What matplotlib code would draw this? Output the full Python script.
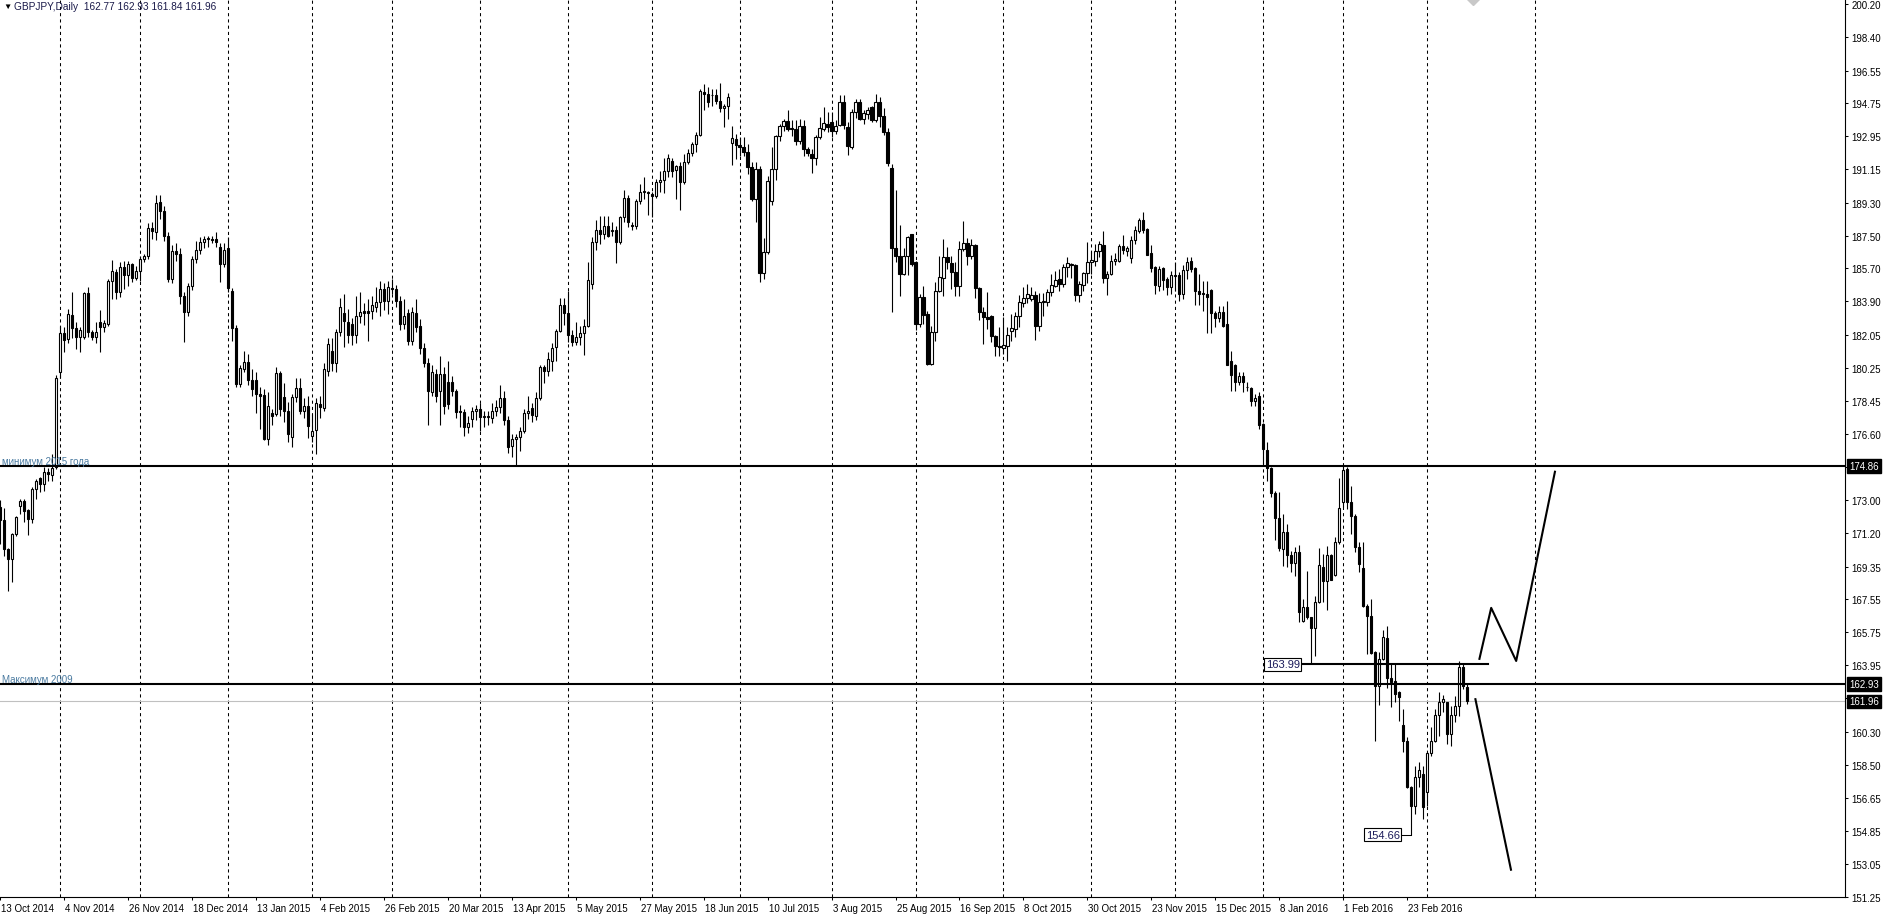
import numpy as np
import matplotlib
matplotlib.use('agg')
import matplotlib.pyplot as plt
import matplotlib.transforms as mtransforms

plt.rcParams['font.family'] = ['Liberation Sans', 'DejaVu Sans']

# GBPJPY daily bars, 13 Oct 2014 .. mid Mar 2016
bar_open = [
    172.60, 171.93, 170.32, 169.77, 171.14, 172.70, 172.97, 172.48, 171.97, 173.61,
    174.20, 173.88, 174.56, 174.38, 174.80, 180.00, 182.16, 181.83, 183.15, 182.42,
    181.93, 181.93, 184.36, 182.24, 181.93, 182.75, 182.48, 182.66, 185.03, 185.49,
    184.43, 185.78, 185.34, 185.93, 185.20, 185.56, 186.22, 186.40, 187.92, 187.72,
    189.33, 188.87, 187.50, 185.12, 186.68, 186.50, 184.21, 183.33, 184.76, 186.22,
    186.73, 187.17, 187.30, 187.30, 187.32, 186.86, 185.95, 186.82, 184.47, 182.46,
    179.37, 180.20, 180.56, 179.60, 179.60, 178.82, 178.76, 176.35, 177.76, 177.72,
    179.97, 178.64, 177.87, 176.45, 178.64, 179.13, 177.90, 178.18, 176.53, 176.85,
    178.29, 178.05, 180.10, 181.20, 180.50, 182.20, 183.24, 182.75, 182.66, 182.05,
    183.11, 183.35, 183.39, 183.39, 183.57, 183.85, 184.58, 183.94, 184.65, 184.58,
    183.94, 182.66, 183.26, 181.74, 183.26, 182.57, 181.32, 180.50, 178.91, 179.92,
    179.00, 179.90, 179.50, 179.46, 179.00, 177.90, 177.85, 176.99, 177.45, 177.90,
    178.00, 177.55, 177.60, 177.50, 177.90, 178.10, 178.60, 177.40, 175.95, 176.35,
    176.48, 176.80, 177.75, 178.03, 177.60, 178.60, 180.30, 180.06, 180.65, 181.38,
    182.29, 183.70, 183.27, 182.05, 181.65, 181.93, 182.16, 182.53, 184.85, 187.14,
    187.83, 187.60, 188.01, 187.75, 187.78, 187.17, 188.51, 189.55, 188.10, 188.05,
    189.37, 189.88, 189.90, 189.80, 189.66, 190.43, 190.57, 191.05, 191.58, 191.07,
    191.30, 190.46, 191.52, 192.03, 192.51, 193.02, 195.36, 195.27, 195.20, 195.20,
    194.90, 194.49, 194.63, 192.58, 192.80, 192.44, 192.35, 192.07, 191.25, 189.51,
    191.16, 185.44, 186.59, 189.40, 191.16, 192.95, 193.53, 193.77, 193.39, 193.35,
    192.71, 193.49, 192.25, 191.98, 191.74, 192.90, 193.32, 193.60, 193.72, 193.26,
    193.57, 194.81, 193.44, 192.35, 194.30, 194.81, 193.90, 194.17, 194.54, 193.81,
    194.81, 194.08, 193.20, 191.19, 186.80, 186.40, 185.39, 186.40, 187.57, 186.03,
    182.65, 184.11, 183.20, 180.46, 182.19, 184.44, 185.16, 186.31, 185.99, 185.48,
    184.75, 186.76, 187.09, 186.36, 186.98, 184.60, 183.33, 183.02, 183.07, 181.97,
    181.45, 181.32, 181.46, 182.29, 182.38, 183.07, 183.80, 184.06, 184.02, 184.24,
    182.56, 183.88, 183.88, 184.39, 184.75, 185.12, 184.85, 185.76, 185.90, 185.89,
    184.24, 184.79, 185.45, 186.04, 186.12, 186.67, 186.98, 185.16, 185.39, 186.12,
    186.12, 186.91, 186.67, 186.25, 187.28, 187.77, 188.35, 187.86, 186.55, 185.76,
    184.75, 185.72, 185.12, 184.66, 185.34, 185.34, 184.30, 185.63, 186.12, 185.72,
    184.48, 184.35, 184.30, 184.53, 183.25, 182.98, 183.33, 182.65, 180.64, 180.40,
    179.49, 179.78, 179.22, 179.16, 178.45, 178.72, 177.18, 175.77, 174.74, 173.39,
    172.00, 170.32, 171.27, 169.99, 169.55, 170.17, 166.39, 167.12, 166.57, 165.97,
    167.40, 169.35, 168.58, 169.99, 168.90, 170.69, 172.88, 174.71, 172.88, 172.15,
    170.41, 169.26, 167.21, 166.63, 164.65, 162.79, 164.29, 165.42, 163.23, 163.10,
    162.46, 160.67, 159.81, 157.25, 156.24, 157.80, 157.98, 157.02, 159.13, 159.81,
    161.24, 161.95, 161.91, 160.17, 161.22, 161.73, 163.83, 162.77,
]
bar_high = [
    173.00, 172.57, 170.40, 171.20, 172.15, 173.06, 173.06, 172.50, 173.70, 174.16,
    174.25, 174.80, 174.74, 175.50, 179.86, 182.56, 182.50, 183.50, 184.40, 182.75,
    182.50, 184.40, 184.70, 182.30, 182.75, 183.40, 182.85, 185.12, 186.15, 185.67,
    186.04, 186.13, 186.13, 186.00, 185.85, 186.40, 186.50, 188.20, 188.23, 189.70,
    189.70, 189.14, 187.70, 187.00, 187.10, 186.80, 184.40, 184.90, 186.40, 187.20,
    187.40, 187.50, 187.50, 187.50, 187.70, 187.10, 187.10, 187.40, 184.60, 182.60,
    180.40, 181.20, 181.00, 180.20, 180.00, 179.20, 179.10, 178.90, 178.00, 180.30,
    180.10, 179.40, 178.40, 178.80, 179.70, 179.70, 178.60, 178.70, 177.70, 178.60,
    178.70, 180.50, 181.90, 181.90, 182.40, 184.10, 184.30, 183.50, 183.00, 184.20,
    184.40, 183.80, 184.00, 184.20, 184.70, 185.00, 184.90, 185.00, 185.10, 184.80,
    184.20, 184.00, 183.50, 183.60, 184.00, 182.90, 181.60, 180.80, 180.40, 180.20,
    180.90, 180.30, 180.60, 179.80, 179.10, 178.20, 178.00, 177.60, 178.10, 178.20,
    178.30, 177.90, 177.90, 178.30, 178.50, 179.30, 179.00, 177.60, 176.60, 176.60,
    177.00, 178.00, 178.70, 178.30, 178.90, 180.40, 180.40, 181.10, 181.60, 182.40,
    184.10, 184.10, 184.45, 182.30, 182.75, 182.57, 182.93, 186.04, 187.40, 188.33,
    188.56, 188.56, 188.60, 188.26, 188.05, 188.60, 190.00, 189.70, 188.23, 189.51,
    190.33, 190.70, 189.95, 189.88, 190.60, 191.06, 191.74, 191.98, 191.74, 191.38,
    191.52, 191.98, 192.25, 192.62, 193.17, 195.54, 195.82, 195.64, 195.54, 195.54,
    195.87, 194.72, 195.30, 193.50, 193.08, 192.90, 192.90, 192.53, 191.52, 191.52,
    191.30, 187.35, 190.79, 192.35, 193.02, 193.63, 193.90, 194.36, 193.81, 193.81,
    193.90, 193.81, 192.35, 192.25, 192.99, 193.99, 194.54, 194.27, 194.30, 193.81,
    195.18, 195.18, 193.72, 194.45, 195.00, 195.00, 194.36, 194.54, 194.63, 195.27,
    195.09, 194.50, 193.40, 191.40, 190.00, 188.08, 186.80, 187.45, 187.60, 186.10,
    184.30, 184.75, 183.38, 182.56, 184.97, 186.40, 187.31, 186.86, 186.40, 186.07,
    187.22, 188.32, 187.35, 187.31, 187.04, 184.66, 183.57, 184.42, 183.14, 182.05,
    182.47, 183.02, 182.47, 183.20, 183.29, 184.24, 184.66, 184.85, 184.66, 184.48,
    184.35, 184.35, 184.57, 185.39, 185.58, 185.67, 185.94, 186.31, 186.00, 185.94,
    185.03, 185.48, 187.13, 186.67, 187.04, 187.22, 187.77, 185.58, 186.43, 186.54,
    187.04, 187.53, 186.91, 187.46, 188.04, 188.45, 188.81, 187.90, 186.98, 185.85,
    185.81, 185.76, 185.21, 185.58, 186.03, 185.48, 185.89, 186.31, 186.31, 185.76,
    185.39, 185.03, 185.03, 184.57, 183.38, 183.66, 183.66, 183.93, 181.19, 180.46,
    180.00, 180.00, 179.49, 179.18, 178.81, 178.90, 177.20, 176.17, 174.80, 173.52,
    173.47, 172.24, 171.69, 170.23, 170.41, 170.54, 167.58, 169.13, 166.60, 167.76,
    170.36, 170.05, 170.47, 170.05, 170.96, 174.20, 174.86, 174.80, 173.79, 172.24,
    170.69, 170.69, 167.30, 167.58, 164.70, 164.65, 165.90, 166.12, 164.01, 164.01,
    162.55, 161.55, 159.99, 157.34, 158.44, 158.66, 158.44, 159.17, 160.54, 161.55,
    162.46, 162.31, 161.95, 161.73, 162.28, 164.20, 164.01, 162.93,
]
bar_low = [
    170.60, 169.96, 168.04, 168.53, 171.05, 172.24, 171.82, 171.10, 171.75, 173.06,
    173.43, 173.52, 174.07, 174.07, 174.70, 179.68, 181.10, 181.60, 181.90, 181.30,
    181.10, 181.85, 181.93, 181.80, 181.60, 181.10, 182.20, 182.57, 184.03, 184.03,
    184.12, 184.58, 184.76, 184.98, 185.04, 185.00, 186.04, 186.22, 187.32, 187.28,
    188.42, 187.20, 184.95, 184.90, 186.10, 183.75, 181.65, 183.10, 184.50, 186.00,
    186.50, 186.80, 186.90, 187.10, 186.90, 184.95, 185.80, 184.40, 181.70, 179.20,
    179.20, 180.00, 179.30, 178.70, 177.80, 176.90, 176.30, 176.00, 177.10, 177.60,
    177.60, 177.30, 176.20, 175.90, 178.40, 177.70, 177.50, 176.40, 176.20, 175.50,
    177.50, 177.90, 179.80, 180.10, 180.00, 182.00, 181.40, 181.60, 181.50, 181.60,
    182.70, 182.60, 181.70, 182.90, 183.30, 183.10, 183.40, 183.20, 184.30, 183.60,
    182.30, 182.40, 181.50, 181.50, 182.20, 181.00, 180.30, 177.10, 178.70, 178.40,
    177.10, 177.70, 178.00, 178.70, 177.50, 177.00, 176.50, 176.70, 177.00, 177.40,
    176.80, 177.00, 177.10, 177.20, 177.60, 177.80, 177.10, 175.60, 175.35, 174.86,
    175.70, 176.70, 177.45, 177.30, 177.40, 178.50, 179.40, 179.80, 180.10, 180.65,
    182.20, 182.60, 181.65, 181.45, 181.50, 181.50, 180.96, 182.48, 184.58, 186.73,
    187.05, 187.32, 187.41, 187.50, 186.00, 187.05, 188.23, 187.96, 187.78, 187.87,
    189.24, 189.50, 188.65, 188.50, 189.55, 189.88, 189.84, 190.70, 190.70, 189.51,
    188.93, 190.33, 191.43, 191.89, 192.07, 192.95, 194.36, 194.54, 194.63, 194.72,
    194.27, 193.44, 193.90, 191.38, 191.71, 191.85, 191.89, 190.85, 189.42, 188.23,
    184.98, 185.13, 186.50, 189.20, 190.52, 192.66, 193.26, 193.26, 192.95, 192.47,
    192.53, 191.89, 191.85, 190.94, 191.38, 192.80, 193.21, 193.17, 192.90, 193.08,
    193.53, 193.35, 191.92, 192.25, 193.94, 193.81, 193.63, 193.90, 193.72, 193.72,
    193.44, 193.00, 191.30, 183.33, 186.07, 184.17, 185.34, 185.34, 185.85, 182.34,
    182.47, 182.65, 180.40, 180.40, 181.74, 184.39, 184.20, 185.67, 184.57, 184.20,
    184.20, 186.67, 185.89, 186.20, 184.10, 182.89, 181.55, 182.38, 181.65, 180.91,
    180.88, 181.00, 180.64, 181.74, 181.92, 182.47, 183.57, 183.80, 183.93, 181.79,
    182.29, 183.11, 183.62, 184.20, 184.66, 184.48, 184.66, 185.21, 185.16, 183.93,
    183.88, 184.48, 184.90, 185.40, 185.85, 186.31, 184.90, 184.24, 185.34, 185.89,
    186.07, 186.49, 186.40, 185.99, 187.04, 187.64, 187.64, 186.44, 185.48, 184.30,
    184.48, 184.53, 184.24, 184.30, 184.48, 183.93, 184.02, 185.12, 185.48, 183.69,
    183.69, 183.38, 182.16, 182.16, 182.47, 182.74, 182.47, 180.40, 178.99, 178.99,
    179.31, 178.94, 178.99, 178.14, 178.17, 176.90, 174.98, 174.07, 173.15, 170.83,
    170.23, 169.41, 169.32, 169.04, 168.86, 166.34, 166.34, 166.48, 163.99, 164.47,
    167.35, 167.40, 166.99, 168.60, 168.85, 170.60, 172.60, 172.51, 171.14, 170.14,
    169.04, 167.15, 164.56, 164.56, 159.81, 161.77, 164.25, 162.68, 161.64, 161.91,
    160.91, 159.17, 157.20, 154.66, 155.79, 157.25, 155.51, 156.24, 158.99, 159.72,
    160.08, 161.40, 159.63, 159.54, 160.82, 161.18, 162.65, 161.84,
]
bar_close = [
    171.93, 170.32, 169.77, 171.14, 172.06, 172.97, 172.42, 171.97, 173.61, 174.07,
    173.88, 174.52, 174.45, 174.74, 179.68, 182.16, 181.80, 183.20, 182.42, 181.93,
    182.30, 184.36, 182.24, 181.93, 182.24, 182.48, 182.71, 185.03, 185.56, 184.43,
    185.78, 185.34, 185.93, 185.20, 185.56, 186.22, 186.40, 187.92, 187.74, 189.29,
    188.87, 187.50, 185.12, 186.68, 186.50, 184.21, 183.33, 184.76, 186.22, 186.73,
    187.17, 187.32, 187.35, 187.28, 187.14, 185.95, 186.73, 184.61, 182.42, 179.37,
    180.23, 180.56, 179.60, 179.10, 178.82, 178.73, 176.35, 178.18, 177.63, 179.97,
    178.00, 177.87, 176.63, 178.64, 179.13, 177.90, 178.18, 177.08, 176.81, 178.33,
    178.09, 180.19, 181.58, 180.52, 182.20, 183.57, 182.84, 182.05, 182.05, 183.11,
    183.33, 183.26, 183.26, 183.67, 183.85, 184.58, 183.94, 184.67, 184.57, 183.94,
    182.66, 183.08, 181.74, 183.30, 182.48, 181.32, 180.50, 179.00, 180.01, 178.73,
    179.92, 178.18, 178.27, 179.00, 177.85, 177.81, 176.99, 177.20, 177.90, 178.00,
    177.54, 177.60, 177.55, 177.90, 178.10, 178.60, 177.40, 175.90, 176.35, 176.48,
    176.80, 177.75, 177.90, 177.66, 178.60, 180.30, 180.06, 180.74, 181.36, 182.29,
    183.70, 183.27, 182.05, 181.65, 181.93, 182.16, 182.53, 185.07, 187.14, 187.83,
    187.56, 188.01, 187.50, 187.80, 187.17, 188.51, 189.55, 188.27, 188.00, 189.37,
    189.88, 189.95, 189.85, 189.66, 190.43, 190.57, 191.05, 191.78, 191.03, 191.30,
    190.46, 191.52, 192.03, 192.51, 193.02, 195.42, 195.25, 194.85, 195.22, 194.90,
    194.50, 194.63, 195.09, 192.84, 192.44, 192.35, 192.07, 191.25, 189.51, 191.16,
    185.44, 186.59, 190.48, 191.16, 192.95, 193.53, 193.77, 193.35, 193.32, 192.66,
    193.49, 192.25, 192.03, 191.74, 192.90, 193.39, 193.66, 193.46, 193.26, 193.53,
    194.81, 193.57, 192.40, 194.27, 194.81, 193.90, 194.23, 194.36, 193.81, 194.81,
    194.08, 193.20, 191.48, 186.80, 186.40, 185.39, 186.40, 187.40, 185.94, 182.65,
    184.11, 183.16, 180.46, 182.19, 184.44, 185.21, 186.31, 186.03, 185.48, 184.75,
    186.76, 187.09, 186.36, 186.98, 184.60, 183.33, 183.02, 182.93, 181.97, 181.43,
    181.37, 181.50, 182.05, 182.42, 183.11, 183.84, 184.06, 184.30, 184.24, 182.56,
    183.88, 183.93, 184.39, 184.79, 185.08, 184.85, 185.76, 185.99, 185.96, 184.24,
    184.85, 185.45, 186.07, 186.16, 186.67, 187.04, 185.16, 185.39, 186.12, 186.22,
    186.91, 186.73, 186.80, 187.28, 187.81, 188.37, 187.82, 186.45, 185.70, 184.79,
    185.67, 185.08, 184.66, 185.34, 185.30, 184.30, 185.63, 186.03, 185.67, 184.48,
    184.30, 184.30, 184.11, 183.25, 182.96, 183.33, 182.56, 180.42, 179.85, 179.49,
    179.78, 179.49, 179.20, 178.45, 178.57, 177.12, 175.80, 174.74, 173.39, 172.00,
    170.36, 171.27, 169.99, 169.55, 170.17, 166.85, 167.12, 166.57, 165.97, 167.40,
    169.46, 168.58, 169.99, 168.64, 170.69, 172.55, 174.67, 172.88, 172.15, 170.41,
    169.50, 167.21, 166.63, 164.62, 162.79, 164.29, 165.48, 163.23, 163.05, 162.37,
    162.19, 159.81, 157.25, 156.24, 157.80, 158.22, 156.15, 159.13, 159.81, 161.24,
    161.95, 162.10, 160.17, 161.22, 161.73, 163.83, 162.83, 161.96,
]

# time axis: a label every 16 bars, monthly separators
date_idx = list(range(0, 353, 16))
date_labels = ['13 Oct 2014', '4 Nov 2014', '26 Nov 2014', '18 Dec 2014', '13 Jan 2015',
               '4 Feb 2015', '26 Feb 2015', '20 Mar 2015', '13 Apr 2015', '5 May 2015',
               '27 May 2015', '18 Jun 2015', '10 Jul 2015', '3 Aug 2015', '25 Aug 2015',
               '16 Sep 2015', '8 Oct 2015', '30 Oct 2015', '23 Nov 2015', '15 Dec 2015',
               '8 Jan 2016', '1 Feb 2016', '23 Feb 2016']
month_sep_idx = [15, 35, 57, 78, 98, 120, 142, 163, 185, 208, 229, 251, 273, 294,
                 316, 336, 357, 384]

price_ticks = [200.20, 198.40, 196.55, 194.75, 192.95, 191.15, 189.30, 187.50, 185.70,
               183.90, 182.05, 180.25, 178.45, 176.60, 174.80, 173.00, 171.20, 169.35,
               167.55, 165.75, 163.95, 162.15, 160.30, 158.50, 156.65, 154.85, 153.05,
               151.25]

low_2015 = 174.86
high_2009 = 162.93
bid = 161.96
header = 'GBPJPY,Daily  162.77 162.93 161.84 161.96'

# marked swing points and drawn lines
swing_top_idx, swing_top = 328, 163.99
swing_low_idx, swing_low = 353, 154.66
swing_top_line = [325.5, 372.25]
path_up_idx = [370, 373, 379.25, 389]
path_up_price = [164.24, 167.09, 164.18, 174.61]
path_down_idx = [369, 378]
path_down_price = [162.14, 152.68]

W, H = 1886, 920
fig = plt.figure(figsize=(W / 100, H / 100), dpi=100)
ax = fig.add_axes([0, 22 / H, 1845 / W, 898 / H])
ax.set_xlim(0.25, 461.5)
ax.set_ylim(151.24, 200.47)

for s in ['top', 'left']:
    ax.spines[s].set_visible(False)
for s in ['right', 'bottom']:
    ax.spines[s].set_linewidth(0.8)

# candles
o = np.array(bar_open)
h = np.array(bar_high)
l = np.array(bar_low)
c = np.array(bar_close)
x = np.arange(len(o))
ax.vlines(x, l, h, color='black', lw=0.8, zorder=3)
up = c >= o
ax.bar(x[up], (c - o)[up], bottom=o[up], width=0.55, color='white',
       edgecolor='black', lw=0.8, zorder=4)
ax.bar(x[~up], (o - c)[~up], bottom=c[~up], width=0.55, color='black',
       edgecolor='black', lw=0.8, zorder=4)

# monthly separators
for m in month_sep_idx:
    ax.axvline(m, color='black', lw=0.75, ls=(0, (3, 3)), zorder=1)

# horizontal levels
ax.axhline(low_2015, color='black', lw=1.5, zorder=5)
ax.axhline(high_2009, color='black', lw=1.5, zorder=5)
ax.axhline(bid, color='#c0c0c0', lw=0.8, zorder=2)

lbl_col = '#4a7aa0'
ax.text(0.6, low_2015 + 0.11, 'минимум 2015 года', fontsize=7, color=lbl_col,
        va='baseline', ha='left', zorder=6)
ax.text(0.6, high_2009 + 0.11, 'Максимум 2009', fontsize=7, color=lbl_col,
        va='baseline', ha='left', zorder=6)

# swing labels
ax.plot(swing_top_line, [swing_top, swing_top], color='black', lw=1.5, zorder=5)
ax.text(swing_top_line[0] - 0.4, swing_top, '%.2f' % swing_top, fontsize=8, color='#1a1a5a',
        ha='right', va='center', zorder=6,
        bbox=dict(boxstyle='square,pad=0.15', fc='white', ec='black', lw=0.8))
ax.plot([350.5, swing_low_idx], [swing_low, swing_low], color='black', lw=0.75, zorder=5)
ax.text(350.1, swing_low, '%.2f' % swing_low, fontsize=8, color='#1a1a5a',
        ha='right', va='center', zorder=6,
        bbox=dict(boxstyle='square,pad=0.15', fc='white', ec='black', lw=0.8))

# projected paths
ax.plot(path_up_idx, path_up_price, color='black', lw=1.5, zorder=5,
        solid_capstyle='butt')
ax.plot(path_down_idx, path_down_price, color='black', lw=1.5, zorder=5,
        solid_capstyle='butt')

# chart shift marker at top
ax.plot([368.5], [200.47], marker='D', ms=6, color='#c8c8c8', zorder=6, clip_on=True)

# y axis on the right
ax.yaxis.tick_right()
ax.set_yticks(price_ticks)
ax.set_yticklabels(['%.2f' % t for t in price_ticks])
ax.tick_params(axis='y', length=2.5, width=0.75, pad=2, labelsize=7, colors='black')

# x axis labels, left aligned to their ticks
ax.set_xticks(date_idx)
ax.set_xticklabels(date_labels)
ax.tick_params(axis='x', length=2.5, width=0.75, pad=1.5, labelsize=7)
shift = mtransforms.ScaledTranslation(1 / 100, 0, fig.dpi_scale_trans)
for t in ax.get_xticklabels():
    t.set_ha('left')
    t.set_transform(t.get_transform() + shift)

# price boxes on the axis
box_tr = mtransforms.blended_transform_factory(ax.transAxes, ax.transData) + \
    mtransforms.ScaledTranslation(4 / 100, 0, fig.dpi_scale_trans)
for p in [low_2015, high_2009, bid]:
    ax.text(1.0, p, '%.2f' % p, transform=box_tr, fontsize=7, color='white',
            ha='left', va='center', zorder=10, clip_on=False,
            bbox=dict(boxstyle='square,pad=0.2', fc='black', ec='black'))

# header
fig.text(3 / W, 1 - 7 / H, '▼', fontsize=6, color='black', va='center', ha='left')
fig.text(14 / W, 1 - 7 / H, header, fontsize=7.3, color='#1a1a4a', va='center', ha='left')

fig.savefig('out.png', dpi=100)
